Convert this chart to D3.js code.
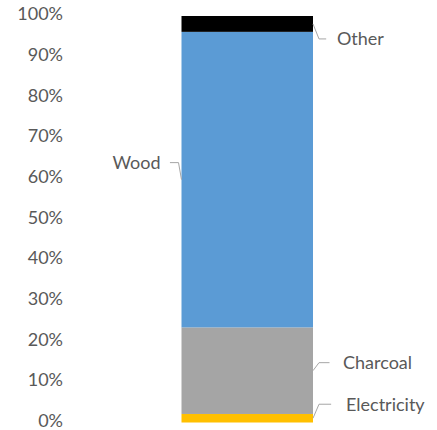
<!DOCTYPE html>
<html>
<head>
<meta charset="utf-8">
<script src="https://cdn.jsdelivr.net/npm/d3@7"></script>
<style>
  body { margin: 0; background: #fff; }
  text { font-family: Lato, "Open Sans", sans-serif; }
</style>
</head>
<body>
<div id="chart"></div>
<script>
// fuel share, bottom to top
const sources = ['Electricity', 'Charcoal', 'Wood', 'Other'];
const shares = [0.021, 0.213, 0.727, 0.039];
const colors = ['#FFC000', '#A5A5A5', '#5B9BD5', '#000000'];
const yTicks = [0, 0.1, 0.2, 0.3, 0.4, 0.5, 0.6, 0.7, 0.8, 0.9, 1];

const w = 437, h = 430;

// where each data label sits relative to its segment
const labelLayout = {
  Electricity: { side: 'right', dy: -14, gap: 33 },
  Charcoal: { side: 'right', dy: -8, gap: 30 },
  Wood: { side: 'left', dy: -17, gap: 21 },
  Other: { side: 'right', dy: 15, gap: 24 }
};

const svg = d3.select('#chart')
  .append('svg')
  .attr('width', w)
  .attr('height', h);

const y = d3.scaleLinear()
  .domain([0, 1])
  .range([422.5, 16]);

const x = d3.scaleBand()
  .domain(['all'])
  .range([181.5, 313])
  .padding(0);

// stack the shares
let acc = 0;
const segs = sources.map(function (s, i) {
  const d = { name: s, y0: acc, y1: acc + shares[i], color: colors[i] };
  acc += shares[i];
  return d;
});

const axis = d3.axisLeft(y)
  .tickValues(yTicks)
  .tickSize(0)
  .tickPadding(0)
  .tickFormat(d3.format('.0%'));

const gAxis = svg.append('g')
  .attr('transform', 'translate(63,0)')
  .call(axis);
gAxis.select('.domain').remove();
gAxis.selectAll('text')
  .attr('dy', '0.22em')
  .attr('fill', '#595959')
  .attr('font-size', '18px')
  .attr('font-family', 'Lato, "Open Sans", sans-serif');

svg.selectAll('rect.seg')
  .data(segs)
  .enter()
  .append('rect')
  .attr('class', 'seg')
  .attr('x', x('all'))
  .attr('width', x.bandwidth())
  .attr('y', function (d) { return y(d.y1); })
  .attr('height', function (d) { return y(d.y0) - y(d.y1); })
  .attr('fill', function (d) { return d.color; });

// labels with leader lines
segs.forEach(function (d) {
  const lay = labelLayout[d.name];
  const midY = y((d.y0 + d.y1) / 2);
  const right = lay.side === 'right';
  const edge = right ? x('all') + x.bandwidth() : x('all');
  const dir = right ? 1 : -1;
  const ly = midY + lay.dy;
  const bend = edge + dir * (right ? 6 : 3);
  const end = edge + dir * lay.gap * 0.55;

  svg.append('path')
    .attr('d', d3.line()([[edge, midY], [bend, ly], [end, ly]]))
    .attr('fill', 'none')
    .attr('stroke', '#A6A6A6')
    .attr('stroke-width', 1);

  svg.append('text')
    .text(d.name)
    .attr('x', edge + dir * lay.gap)
    .attr('y', ly)
    .attr('dy', '0.35em')
    .attr('text-anchor', right ? 'start' : 'end')
    .attr('font-size', '18px')
    .attr('fill', '#595959');
});
</script>
</body>
</html>
